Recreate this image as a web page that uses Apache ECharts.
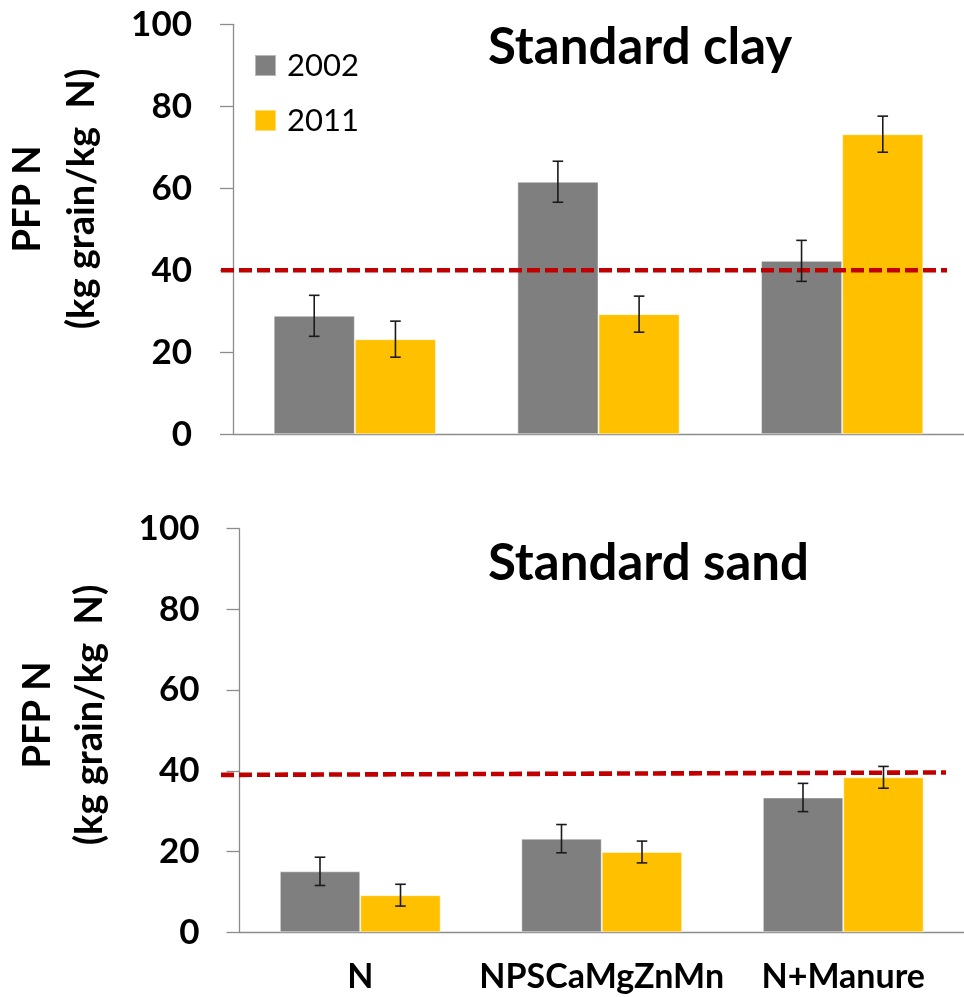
<!DOCTYPE html>
<html>
<head>
<meta charset="utf-8">
<script src="https://cdn.jsdelivr.net/npm/echarts@6/dist/echarts.min.js"></script>
<style>
  html, body { margin: 0; padding: 0; background: #fff; overflow: hidden; }
  #chart { width: 964px; height: 997px; }
</style>
</head>
<body>
<div id="chart"></div>
<script>
// Treatments and sampling years
const categories = ['N', 'NPSCaMgZnMn', 'N+Manure'];
const seriesNames = ['2002', '2011'];

// Standard clay: partial factor productivity of N, means and error half-widths
const clay2002 = [28.9, 61.6, 42.3];
const clay2002Err = [5.0, 5.0, 5.0];
const clay2011 = [23.2, 29.3, 73.2];
const clay2011Err = [4.4, 4.4, 4.4];

// Standard sand
const sand2002 = [15.1, 23.2, 33.4];
const sand2002Err = [3.5, 3.5, 3.5];
const sand2011 = [9.2, 19.9, 38.4];
const sand2011Err = [2.7, 2.7, 2.7];

// Reference level (start and end values of the dashed line)
const clayRef = [40, 40];
const sandRef = [39.0, 39.6];

const yTicks = [0, 20, 40, 60, 80, 100];
const panelTitles = ['Standard clay', 'Standard sand'];
const yTitle = ['PFP N', '(kg grain/kg  N)'];

const FONT = 'Lato, "Open Sans", sans-serif';
const GRAY = '#7f7f7f';
const GOLD = '#ffc000';
const AXIS = '#8c8c8c';
const RED = '#c00000';

const chart = echarts.init(document.getElementById('chart'), null, { renderer: 'canvas' });

function valueAxis(gridIndex, show, margin) {
  return {
    type: 'value', gridIndex,
    min: yTicks[0], max: yTicks[yTicks.length - 1], interval: yTicks[1] - yTicks[0],
    show,
    splitLine: { show: false },
    axisLine: { show: true, lineStyle: { color: AXIS, width: 1.3 } },
    axisTick: { show: true, length: 13, lineStyle: { color: AXIS, width: 1.3 } },
    axisLabel: { margin, fontFamily: FONT, fontWeight: 'bold', fontSize: 35, color: '#000' }
  };
}

function catAxis(gridIndex, showLabels) {
  return {
    type: 'category', gridIndex, data: categories,
    axisLine: { show: true, lineStyle: { color: AXIS, width: 1.3 } },
    axisTick: { show: false },
    axisLabel: {
      show: showLabels, margin: 28, interval: 0,
      fontFamily: FONT, fontWeight: 'bold', fontSize: 34, color: '#000'
    }
  };
}

function helperAxes(gridIndex) {
  return {
    x: { type: 'value', gridIndex, min: 0, max: 1, show: false },
    y: { type: 'value', gridIndex, min: yTicks[0], max: yTicks[yTicks.length - 1], show: false }
  };
}

function barSeries(name, axisIndex, values, color) {
  return {
    name, type: 'bar', xAxisIndex: axisIndex, yAxisIndex: axisIndex,
    data: values, barGap: '0%', barCategoryGap: '33.4%',
    itemStyle: { color, borderColor: 'rgba(255,255,255,0.45)', borderWidth: 1 },
    z: 2
  };
}

// Error bars placed over the left (2002) or right (2011) bar of each category
function errorSeries(axisIndex, values, errs, side) {
  return {
    type: 'custom', xAxisIndex: axisIndex, yAxisIndex: axisIndex, z: 6,
    encode: { x: 0, y: 1 },
    data: values.map((v, i) => [i, v, errs[i]]),
    renderItem: (params, api) => {
      const band = api.size([1, 0])[0];
      const c = api.value(0), v = api.value(1), e = api.value(2);
      const cx = api.coord([c, v])[0] + side * band / 6;
      const top = api.coord([c, v + e])[1];
      const bot = api.coord([c, v - e])[1];
      const hw = 5.3;
      const style = { stroke: '#1a1a1a', lineWidth: 1.6 };
      return {
        type: 'group',
        children: [
          { type: 'line', shape: { x1: cx, y1: top, x2: cx, y2: bot }, style },
          { type: 'line', shape: { x1: cx - hw, y1: top, x2: cx + hw, y2: top }, style },
          { type: 'line', shape: { x1: cx - hw, y1: bot, x2: cx + hw, y2: bot }, style }
        ]
      };
    }
  };
}

function refSeries(axisIndex, ref) {
  return {
    type: 'line', xAxisIndex: axisIndex, yAxisIndex: axisIndex, z: 4,
    data: [[0, ref[0]], [1, ref[1]]],
    symbol: 'none', silent: true,
    lineStyle: { color: RED, width: 4.6, type: [13, 5] }
  };
}

const h2 = helperAxes(2), h3 = helperAxes(3);
const titleStyle = { fontFamily: FONT, fontWeight: 'bold', fontSize: 51, color: '#000' };
const nameFont = 'bold 38px ' + FONT;

const option = {
  animation: false,
  backgroundColor: '#fff',
  title: [
    { text: panelTitles[0], left: 483, top: 17, textStyle: titleStyle },
    { text: panelTitles[1], left: 483, top: 533, textStyle: titleStyle }
  ],
  legend: {
    data: seriesNames, orient: 'vertical', left: 254, top: 50, padding: 0,
    itemWidth: 21, itemHeight: 21, itemGap: 24, icon: 'rect',
    textStyle: { fontFamily: FONT, fontSize: 31, color: '#000', lineHeight: 28, padding: [0, 0, 0, 6] }
  },
  grid: [
    { left: 233, top: 24.3, width: 740, height: 410 },
    { left: 239.5, top: 528.7, width: 741, height: 403.6 },
    { left: 221, top: 24.3, width: 726, height: 410 },
    { left: 221, top: 528.7, width: 725, height: 403.6 }
  ],
  xAxis: [catAxis(0, false), catAxis(1, true), h2.x, h3.x],
  yAxis: [valueAxis(0, true, 41), valueAxis(1, true, 40), h2.y, h3.y],
  graphic: [
    { type: 'text', x: 28, y: 199, rotation: Math.PI / 2,
      style: { text: yTitle[0], font: nameFont, fill: '#000', align: 'center', verticalAlign: 'middle' } },
    { type: 'text', x: 82, y: 199, rotation: Math.PI / 2,
      style: { text: yTitle[1], font: nameFont, fill: '#000', align: 'center', verticalAlign: 'middle' } },
    { type: 'text', x: 38, y: 715, rotation: Math.PI / 2,
      style: { text: yTitle[0], font: nameFont, fill: '#000', align: 'center', verticalAlign: 'middle' } },
    { type: 'text', x: 90, y: 715, rotation: Math.PI / 2,
      style: { text: yTitle[1], font: nameFont, fill: '#000', align: 'center', verticalAlign: 'middle' } }
  ],
  series: [
    barSeries(seriesNames[0], 0, clay2002, GRAY),
    barSeries(seriesNames[1], 0, clay2011, GOLD),
    errorSeries(0, clay2002, clay2002Err, -1),
    errorSeries(0, clay2011, clay2011Err, 1),
    barSeries(seriesNames[0], 1, sand2002, GRAY),
    barSeries(seriesNames[1], 1, sand2011, GOLD),
    errorSeries(1, sand2002, sand2002Err, -1),
    errorSeries(1, sand2011, sand2011Err, 1),
    refSeries(2, clayRef),
    refSeries(3, sandRef)
  ]
};

chart.setOption(option);
</script>
</body>
</html>
